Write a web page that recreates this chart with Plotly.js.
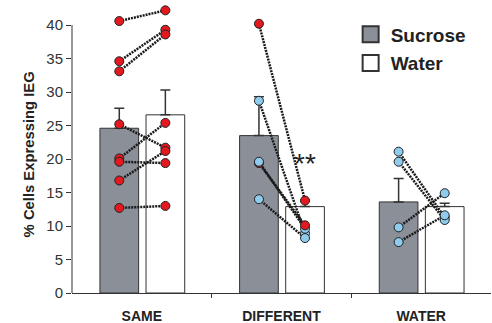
<!DOCTYPE html>
<html>
<head>
<meta charset="utf-8">
<script src="https://cdn.plot.ly/plotly-3.0.1.min.js"></script>
<style>html,body{margin:0;padding:0;background:#fff;}#chart{width:492px;height:323px;}</style>
</head>
<body>
<div id="chart"></div>
<script>
// ---- data ----
const categories = ['SAME', 'DIFFERENT', 'WATER'];
const sucroseMean = [24.6, 23.5, 13.6];
const sucroseErr = [3.0, 5.8, 3.5];
const waterMean = [26.6, 12.9, 12.9];
const waterErr = [3.7, 0.8, 0.5];
const yTicks = [0, 5, 10, 15, 20, 25, 30, 35, 40];

// individual subjects (paired: sucrose test -> water test)
const sameRedSucrose = [40.6, 34.6, 33.1, 25.2, 20.1, 19.6, 16.8, 12.7];
const sameRedWater   = [42.2, 39.3, 38.6, 21.7, 25.4, 19.4, 21.2, 13.0];
const diffRedSucrose = [40.2, 19.4];
const diffRedWater   = [13.8, 10.1];
const diffBlueSucrose = [28.7, 19.6, 14.0];
const diffBlueWater   = [8.9, 9.6, 8.2];
const waterBlueSucrose = [21.1, 19.6, 9.8, 7.6];
const waterBlueWater   = [11.3, 10.9, 14.9, 11.6];

// ---- styles ----
const GREY = '#8a8f98';
const RED = '#e3191f';
const BLUE = '#8ecbec';
const DARK = '#333333';
const FONT = 'Liberation Sans, Arial, sans-serif';
const BAR_W = 0.277, OFF_S = -0.30, OFF_W = 0.03;
const CX_S = OFF_S + BAR_W / 2, CX_W = OFF_W + BAR_W / 2;
const idx = categories.map((c, i) => i);
const Y_MAX = 43;

const traces = [];
traces.push({
  type: 'bar', x: idx, y: sucroseMean, width: BAR_W, offset: OFF_S, showlegend: false,
  marker: {color: GREY, line: {color: DARK, width: 1}},
  error_y: {type: 'data', array: sucroseErr, arrayminus: sucroseErr.map(() => 0), symmetric: false,
            color: DARK, thickness: 1.5, width: 5}
});
traces.push({
  type: 'bar', x: idx, y: waterMean, width: BAR_W, offset: OFF_W, showlegend: false,
  marker: {color: '#ffffff', line: {color: DARK, width: 1}},
  error_y: {type: 'data', array: waterErr, arrayminus: waterErr.map(() => 0), symmetric: false,
            color: DARK, thickness: 1.5, width: 5}
});

// connecting lines
const lx = [], ly = [];
function addPairs(ci, left, right) {
  left.forEach((v, k) => { lx.push(ci + CX_S, ci + CX_W, null); ly.push(v, right[k], null); });
}
addPairs(0, sameRedSucrose, sameRedWater);
addPairs(1, diffRedSucrose, diffRedWater);
addPairs(1, diffBlueSucrose, diffBlueWater);
addPairs(2, waterBlueSucrose, waterBlueWater);
traces.push({type: 'scatter', mode: 'lines', x: lx, y: ly, showlegend: false,
  hoverinfo: 'skip', line: {color: '#1a1a1a', width: 2.5, dash: '2px,1px'}});

// points (ordered so the drawing order matches the figure)
const px = [], py = [], pc = [];
function addPts(ci, vals, side, col) {
  vals.forEach(v => { px.push(ci + (side === 's' ? CX_S : CX_W)); py.push(v); pc.push(col); });
}
addPts(0, sameRedSucrose, 's', RED); addPts(0, sameRedWater, 'w', RED);
addPts(1, diffRedSucrose, 's', RED); addPts(1, diffBlueSucrose, 's', BLUE);
addPts(1, diffBlueWater, 'w', BLUE); addPts(1, diffRedWater, 'w', RED);
addPts(2, waterBlueSucrose, 's', BLUE); addPts(2, waterBlueWater, 'w', BLUE);
traces.push({type: 'scatter', mode: 'markers', x: px, y: py, showlegend: false, cliponaxis: false,
  marker: {size: 9, color: pc, line: {color: '#222', width: 1}}});

// legend entries
traces.push({type: 'scatter', mode: 'markers', x: [null], y: [null], name: 'Sucrose', legendgroup: 'a',
  marker: {symbol: 'square', size: 16, color: GREY, line: {color: DARK, width: 2}}});
traces.push({type: 'scatter', mode: 'markers', x: [null], y: [null], name: 'Water', legendgroup: 'b',
  marker: {symbol: 'square', size: 16, color: '#ffffff', line: {color: DARK, width: 2}}});

const layout = {
  width: 492, height: 323,
  margin: {l: 72, r: 1, t: 5, b: 30},
  paper_bgcolor: '#fff', plot_bgcolor: '#fff',
  font: {family: FONT, color: '#222'},
  xaxis: {
    range: [-0.5, 2.5], tickmode: 'array', tickvals: idx, ticktext: categories,
    ticks: '', showline: true, linecolor: DARK, linewidth: 1, showgrid: false, zeroline: false,
    tickfont: {family: FONT, size: 14, weight: 'bold', color: '#222'}, ticklabelstandoff: 10,
    minor: {tickmode: 'array', tickvals: [0.5, 1.5], ticks: 'outside', ticklen: 4, tickcolor: DARK, tickwidth: 1, showgrid: false}
  },
  yaxis: {
    range: [0, Y_MAX], tickmode: 'array', tickvals: yTicks, ticks: 'outside', ticklen: 5, tickcolor: DARK, tickwidth: 1,
    showline: false, showgrid: false, zeroline: false,
    tickfont: {family: FONT, size: 15, color: '#333'}
  },
  shapes: [
    {type: 'line', xref: 'paper', yref: 'y', x0: 0, x1: 0, y0: yTicks[0], y1: yTicks[yTicks.length - 1],
     line: {color: DARK, width: 1}, layer: 'above'}
  ],
  showlegend: true,
  legend: {x: 0.665, y: 0.9635, xanchor: 'left', yanchor: 'top', bgcolor: 'rgba(0,0,0,0)',
    traceorder: 'grouped', tracegroupgap: 1,
    font: {family: FONT, size: 19, weight: 'bold', color: '#222'}, itemsizing: 'trace'},
  annotations: [
    {xref: 'paper', yref: 'paper', x: -0.126, y: 0.482, text: '% Cells Expressing IEG', textangle: -90,
     showarrow: false, font: {family: FONT, size: 14.8, weight: 'bold', color: '#222'}},
    {xref: 'x', yref: 'y', x: 1 + CX_W, y: 19.4, text: '**', showarrow: false,
     font: {family: FONT, size: 28, color: '#222'}}
  ],
  bargap: 0
};

Plotly.newPlot('chart', traces, layout, {staticPlot: true, displayModeBar: false});
</script>
</body>
</html>
